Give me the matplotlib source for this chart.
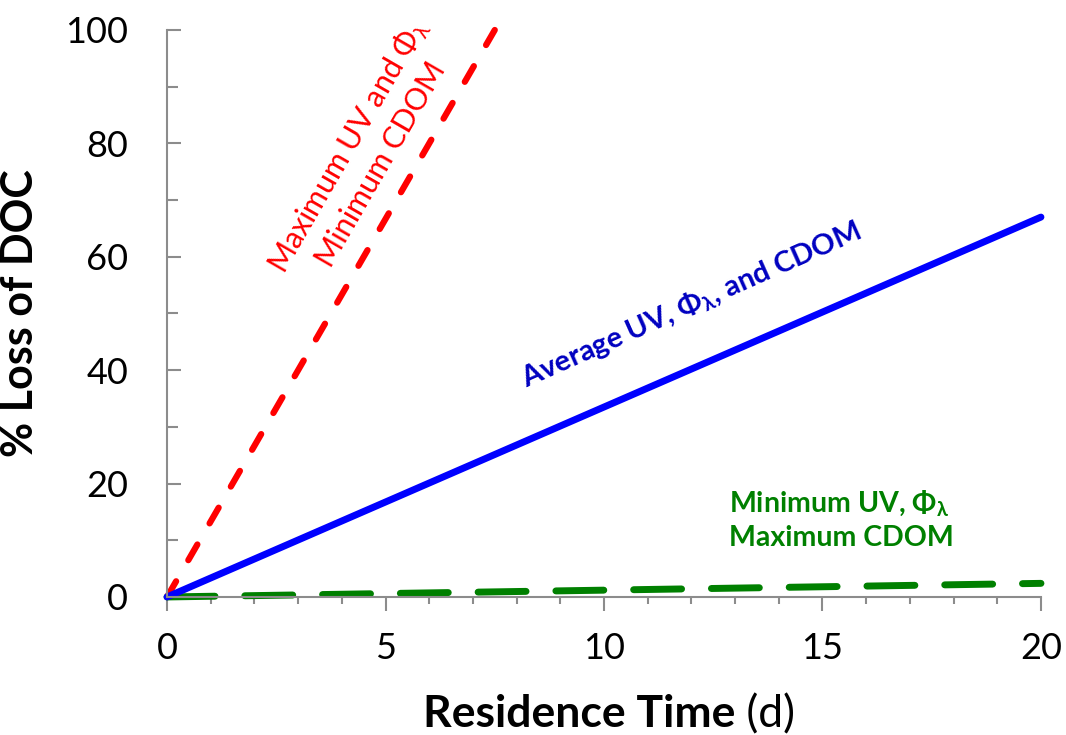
import matplotlib
matplotlib.use("Agg")
import matplotlib.pyplot as plt
from matplotlib.ticker import MultipleLocator

FONT = ['Lato', 'Noto Sans', 'DejaVu Sans']
plt.rcParams['font.family'] = FONT
plt.rcParams['mathtext.fontset'] = 'custom'
plt.rcParams['mathtext.rm'] = 'Lato'
plt.rcParams['mathtext.bf'] = 'Lato:bold'

# Data
time_avg = [0, 20]
loss_avg = [0, 67]
time_max = [0, 7.5]
loss_max = [0, 100]
time_min = [0, 20]
loss_min = [0, 2.4]

x_ticks = [0, 5, 10, 15, 20]
y_ticks = [0, 20, 40, 60, 80, 100]

fig = plt.figure(figsize=(10.66, 7.35), dpi=100)
ax = fig.add_axes([0.1567, 0.1878, 0.8198, 0.7714])

ax.plot(time_max, loss_max, color='#ff0000', lw=4.5, dashes=(2.9, 3.9),
        dash_capstyle='round', solid_capstyle='round', clip_on=False)
ax.plot(time_min, loss_min, color='#008000', lw=5, dashes=(6.9, 4.3),
        dash_capstyle='round', clip_on=False)
ax.plot(time_avg, loss_avg, color='#0000ff', lw=5, solid_capstyle='round', clip_on=False)

ax.set_xlim(0, 20)
ax.set_ylim(0, 100)
ax.set_xticks(x_ticks)
ax.set_yticks(y_ticks)
ax.xaxis.set_minor_locator(MultipleLocator(1))
ax.yaxis.set_minor_locator(MultipleLocator(10))

for s in ['top', 'right']:
    ax.spines[s].set_visible(False)
for s in ['left', 'bottom']:
    ax.spines[s].set_color('#8c8c8c')
    ax.spines[s].set_linewidth(1.5)

ax.tick_params(axis='x', which='major', direction='out', length=10, width=1.5,
               color='#8c8c8c', labelsize=26, pad=15)
ax.tick_params(axis='x', which='minor', direction='out', length=5, width=1.5,
               color='#8c8c8c')
ax.tick_params(axis='y', which='both', direction='in', length=10, width=1.5,
               color='#8c8c8c', labelsize=26, pad=28)
ax.tick_params(axis='y', which='minor', length=8)

ax.set_ylabel('% Loss of DOC', fontsize=31, fontweight='bold', labelpad=18)

xl_bold = fig.text(0.0, 0.0, 'Residence Time', fontsize=32, fontweight='bold',
                   ha='left', va='baseline')
xl_reg = fig.text(0.0, 0.0, ' (d)', fontsize=32, ha='left', va='baseline')

fig.canvas.draw()
r = fig.canvas.get_renderer()
wb = xl_bold.get_window_extent(r).width
wr = xl_reg.get_window_extent(r).width
W = fig.bbox.width
cx = (167 + 1041) / 2 + 5
x0 = cx - (wb + wr) / 2
yb = 1 - 727 / 735
xl_bold.set_position((x0 / W, yb))
xl_reg.set_position(((x0 + wb) / W, yb))

ax.text(12.0, 51.6, 'Average UV, Φ$_{\\mathregular{λ}}$, and CDOM',
        color='#0000c0', fontsize=21, fontweight='bold', rotation=24,
        ha='center', va='center', rotation_mode='anchor')

ax.text(4.5, 78, 'Maximum UV and Φ$_{\\mathregular{λ}}$\nMinimum CDOM',
        color='#ff0000', fontsize=22, rotation=60, ha='center', va='center',
        rotation_mode='anchor', multialignment='center', linespacing=1.25)

ax.text(12.85, 13.6, 'Minimum UV, Φ$_{\\mathregular{λ}}$\nMaximum CDOM',
        color='#008000', fontsize=20.5, fontweight='bold', ha='left', va='center',
        linespacing=1.3)

fig.savefig('out.png', dpi=100)
